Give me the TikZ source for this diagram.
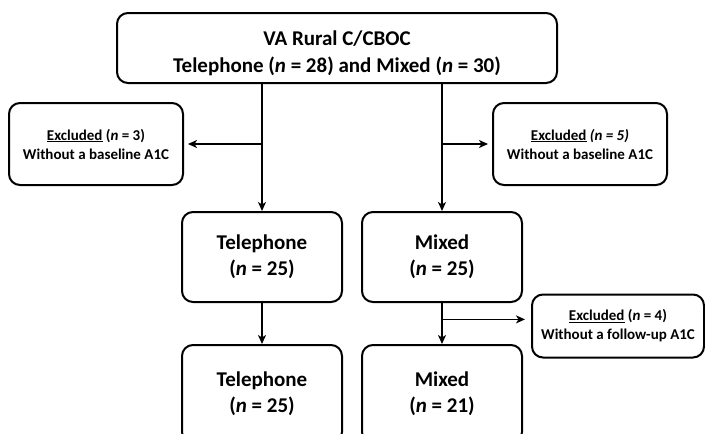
\documentclass[tikz,border=0pt]{standalone}
\usepackage{fontspec}
\setmainfont{Carlito}
\usepackage{tikz}
\usetikzlibrary{arrows.meta, positioning, calc}

\tikzset{
  flowbox/.style={draw, line width=2pt, rounded corners=11pt, align=center,
    font=\bfseries\fontsize{21}{26}\selectfont, inner sep=0pt},
  exclbox/.style={flowbox, font=\bfseries\fontsize{15}{19}\selectfont,
    minimum width=174pt},
  flowarrow/.style={-{Stealth[length=9pt, width=8pt, inset=2.5pt]}, line width=1.5pt}
}

\begin{document}
\begin{tikzpicture}[x=1pt, y=-1pt]
  \useasboundingbox (0,0) rectangle (705,434);

  % Top box
  \node[flowbox, font=\bfseries\fontsize{21}{27}\selectfont,
    minimum width=440pt, minimum height=70pt] (top) at (337, 48)
    {\rule{0pt}{25pt}VA Rural C/CBOC\\Telephone (\textit{n} = 28) and Mixed (\textit{n} = 30)};

  % Excluded at baseline
  \node[exclbox, minimum height=82pt] (exclL) at (96, 144)
    {\underline{Excluded} (\textit{n} = 3)\\Without a baseline A1C};
  \node[exclbox, minimum height=82pt] (exclR) at (580, 144)
    {\underline{Excluded} \textit{(n = 5)}\\Without a baseline A1C};

  % Middle boxes
  \node[flowbox, minimum width=160pt, minimum height=90pt] (telA) at (262, 257)
    {Telephone\\(\textit{n} = 25)};
  \node[flowbox, minimum width=160pt, minimum height=90pt] (mixA) at (442, 257)
    {Mixed\\(\textit{n} = 25)};

  % Bottom boxes
  \node[flowbox, minimum width=160pt, minimum height=98pt] (telB) at (262, 394)
    {Telephone\\(\textit{n} = 25)};
  \node[flowbox, minimum width=160pt, minimum height=98pt] (mixB) at (442, 394)
    {Mixed\\(\textit{n} = 21)};

  % Excluded at follow-up
  \node[exclbox, minimum width=172pt, minimum height=63pt] (exclF) at (618, 326)
    {\underline{Excluded} (\textit{n} = 4)\\Without a follow-up A1C};

  % Arrows
  \draw[flowarrow] (top.south -| telA.north) -- (telA.north);
  \draw[flowarrow] (top.south -| mixA.north) -- (mixA.north);
  \draw[flowarrow] (exclL.east -| telA.north) -- ([xshift=4pt]exclL.east);
  \draw[flowarrow] (exclR.west -| mixA.north) -- ([xshift=-4pt]exclR.west);
  \draw[flowarrow] (telA) -- (telB);
  \draw[flowarrow] (mixA) -- (mixB);
  \draw[flowarrow] ($(mixA.south)!0.4!(mixB.north)$) -- ([xshift=-6pt]exclF.west |- {$(mixA.south)!0.4!(mixB.north)$});
\end{tikzpicture}
\end{document}
